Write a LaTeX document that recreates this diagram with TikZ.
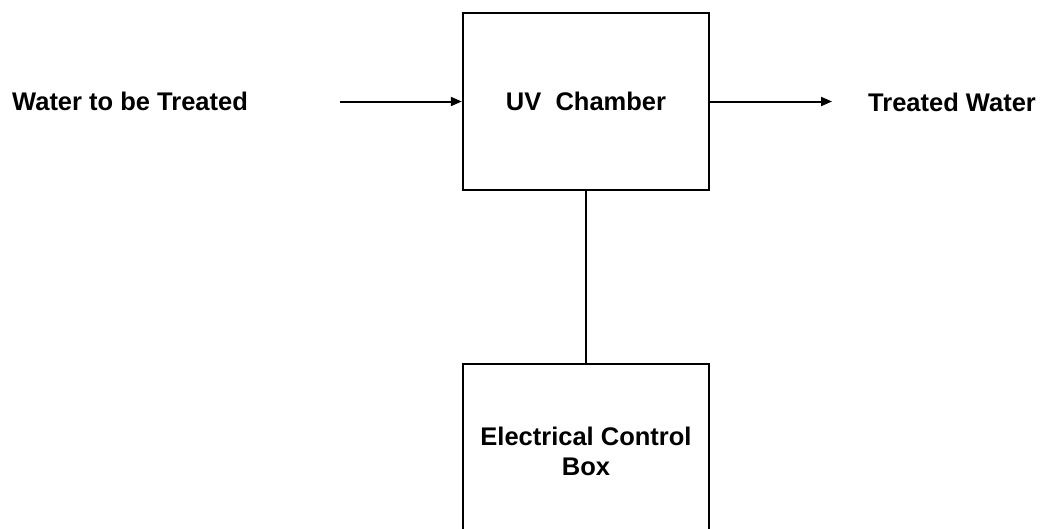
\documentclass[tikz,border=0pt]{standalone}
\usepackage{fontspec}
\setmainfont{Liberation Sans}
\usetikzlibrary{arrows.meta, positioning}

\begin{document}
\begin{tikzpicture}[x=1pt, y=-1pt,
		unit/.style={draw, line width=2.4pt, minimum width=246pt, minimum height=177pt, inner sep=0pt},
		label/.style={font=\fontsize{25.5}{30}\selectfont\bfseries, inner sep=0pt},
		flow/.style={line width=2pt, -{Triangle[length=11pt, width=9pt]}}]
		\useasboundingbox (0,0) rectangle (1047,528);
		\clip (0,0) rectangle (1047,528);
		\node[unit] (chamber) at (586,101.5) {};
		\node[label] at (chamber) {UV\ \ Chamber};
		\node[unit, anchor=north, minimum height=200pt] (control) at (586,363) {};
		\node[label, align=center] (controltext) at (586,451) {Electrical Control\\Box};
		\node[label, anchor=west] (water) at (12,101) {Water to be Treated};
		\node[label, anchor=west] (treated) at (868,102) {Treated Water};
		\coordinate (inlet) at (340,101.5);
		\coordinate (outlet) at (832,101.5);
		\draw[flow] (inlet) -- (chamber.west);
		\draw[flow] (chamber.east) -- (outlet);
		\draw[line width=2.4pt] (chamber.south) -- (control.north);
	\end{tikzpicture}
\end{document}
